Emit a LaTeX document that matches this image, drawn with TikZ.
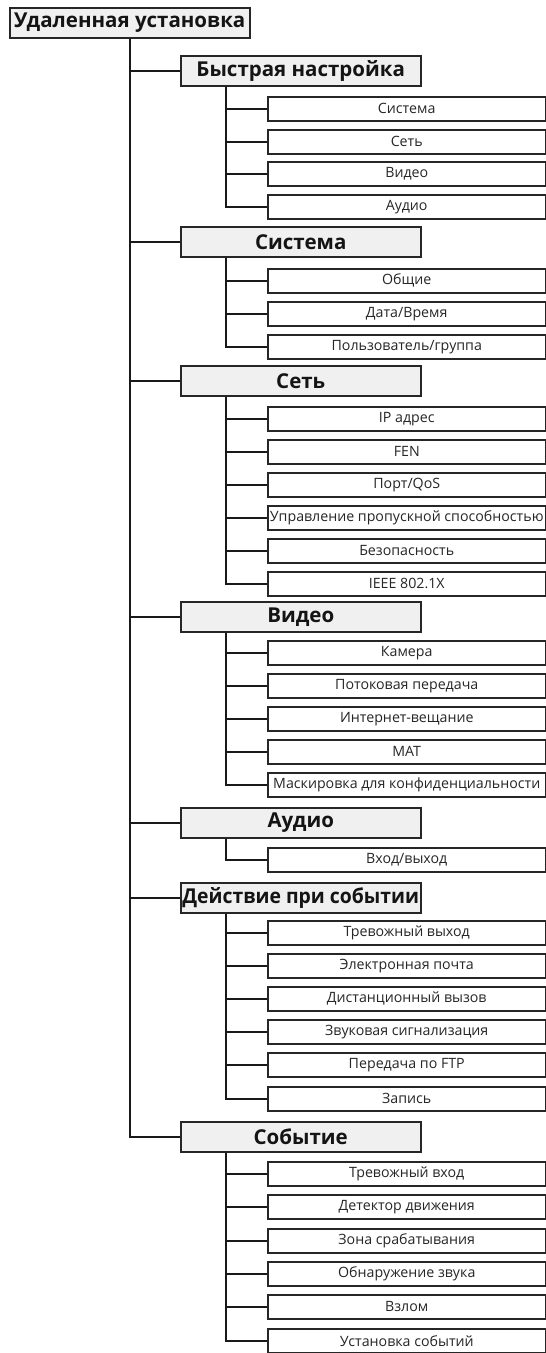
\documentclass[tikz,border=0pt]{standalone}
\usepackage{fontspec}
\setmainfont{Open Sans}
\begin{document}
\begin{tikzpicture}[x=1pt,y=-1pt,
  boxline/.style={draw=black!85,line width=1.5pt},
  lvlone/.style={boxline,fill=black!6,minimum width=240pt,minimum height=30pt,inner sep=0pt,anchor=north west,text=black!92,font=\fontsize{20.5}{20.5}\selectfont\bfseries},
  leaf/.style={boxline,fill=white,minimum width=278pt,minimum height=24pt,inner sep=0pt,anchor=north west,text=black!85,font=\fontsize{14.2}{14.2}\selectfont},
  link/.style={draw=black!90,line width=1.5pt}]
\useasboundingbox (0,0) rectangle (546,1353);
\coordinate (trunk) at (130,0);
\coordinate (sub) at (226,0);
\node[lvlone,minimum width=240pt] (root) at (9,7) {Удаленная установка};
% level one
\node[lvlone] (q) at (180,55) {Быстрая настройка};
\node[lvlone] (s) at (180,226) {Система};
\node[lvlone] (n) at (180,365) {Сеть};
\node[lvlone] (v) at (180,601) {Видео};
\node[lvlone] (a) at (180,807) {Аудио};
\node[lvlone] (d) at (180,882) {\scalebox{0.945}[1]{Действие при событии}};
\node[lvlone] (e) at (180,1121) {Событие};
% leaves
\node[leaf] (q1) at (267,96) {Система};
\node[leaf] (q2) at (267,129) {Сеть};
\node[leaf] (q3) at (267,161) {Видео};
\node[leaf] (q4) at (267,194) {Аудио};
\node[leaf] (s1) at (267,268) {Общие};
\node[leaf] (s2) at (267,301) {Дата/Время};
\node[leaf] (s3) at (267,334) {Пользователь/группа};
\node[leaf] (n1) at (267,406) {IP адрес};
\node[leaf] (n2) at (267,439) {FEN};
\node[leaf] (n3) at (267,472) {Порт/QoS};
\node[leaf] (n4) at (267,505) {Управление пропускной способностью};
\node[leaf] (n5) at (267,538) {Безопасность};
\node[leaf] (n6) at (267,571) {IEEE 802.1X};
\node[leaf] (v1) at (267,640) {Камера};
\node[leaf] (v2) at (267,673) {Потоковая передача};
\node[leaf] (v3) at (267,706) {Интернет-вещание};
\node[leaf] (v4) at (267,739) {МАТ};
\node[leaf] (v5) at (267,772) {Маскировка для конфиденциальности};
\node[leaf] (a1) at (267,847) {Вход/выход};
\node[leaf] (d1) at (267,920) {Тревожный выход};
\node[leaf] (d2) at (267,953) {Электронная почта};
\node[leaf] (d3) at (267,986) {Дистанционный вызов};
\node[leaf] (d4) at (267,1019) {Звуковая сигнализация};
\node[leaf] (d5) at (267,1052) {Передача по FTP};
\node[leaf] (d6) at (267,1086) {Запись};
\node[leaf] (e1) at (267,1161) {Тревожный вход};
\node[leaf] (e2) at (267,1194) {Детектор движения};
\node[leaf] (e3) at (267,1228) {Зона срабатывания};
\node[leaf] (e4) at (267,1261) {Обнаружение звука};
\node[leaf] (e5) at (267,1294) {Взлом};
\node[leaf] (e6) at (267,1328) {Установка событий};
% connectors
\foreach \t in {q,s,n,v,a,d,e}
  \draw[link] (root.south -| trunk) |- (\t.west);
\foreach \p/\l in {q/{q1,q2,q3,q4},s/{s1,s2,s3},n/{n1,n2,n3,n4,n5,n6},v/{v1,v2,v3,v4,v5},a/{a1},d/{d1,d2,d3,d4,d5,d6},e/{e1,e2,e3,e4,e5,e6}}
  \foreach \c in \l
    \draw[link] (\p.south -| sub) |- (\c.west);
\end{tikzpicture}
\end{document}
